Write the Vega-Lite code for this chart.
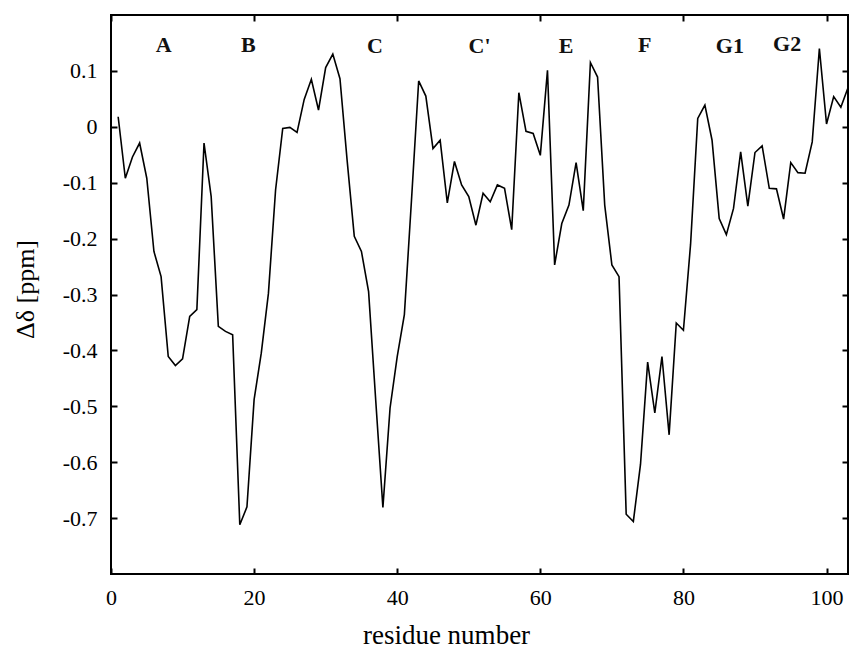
{
  "$schema": "https://vega.github.io/schema/vega-lite/v6.json",
  "width": 737,
  "height": 559,
  "autosize": {"type": "none"},
  "padding": {"left": 111, "top": 15, "right": 1, "bottom": 74},
  "background": "white",
  "config": {
    "view": {"stroke": "black", "strokeWidth": 2},
    "font": "Liberation Serif",
    "axis": {"grid": false, "domain": false, "tickColor": "black", "tickWidth": 2, "labelColor": "black", "titleColor": "black", "labelFont": "Liberation Serif", "titleFont": "Liberation Serif", "titleFontWeight": "normal"}
  },
  "datasets": {
    "shift": [
      {"residue": 1, "delta": 0.018}, {"residue": 2, "delta": -0.092}, {"residue": 3, "delta": -0.054}, {"residue": 4, "delta": -0.029},
      {"residue": 5, "delta": -0.092}, {"residue": 6, "delta": -0.223}, {"residue": 7, "delta": -0.268}, {"residue": 8, "delta": -0.411},
      {"residue": 9, "delta": -0.427}, {"residue": 10, "delta": -0.415}, {"residue": 11, "delta": -0.339}, {"residue": 12, "delta": -0.327},
      {"residue": 13, "delta": -0.029}, {"residue": 14, "delta": -0.125}, {"residue": 15, "delta": -0.357}, {"residue": 16, "delta": -0.366},
      {"residue": 17, "delta": -0.372}, {"residue": 18, "delta": -0.712}, {"residue": 19, "delta": -0.680}, {"residue": 20, "delta": -0.488},
      {"residue": 21, "delta": -0.405}, {"residue": 22, "delta": -0.298}, {"residue": 23, "delta": -0.113}, {"residue": 24, "delta": -0.003},
      {"residue": 25, "delta": -0.001}, {"residue": 26, "delta": -0.010}, {"residue": 27, "delta": 0.049}, {"residue": 28, "delta": 0.085},
      {"residue": 29, "delta": 0.030}, {"residue": 30, "delta": 0.106}, {"residue": 31, "delta": 0.130}, {"residue": 32, "delta": 0.086},
      {"residue": 33, "delta": -0.060}, {"residue": 34, "delta": -0.196}, {"residue": 35, "delta": -0.223}, {"residue": 36, "delta": -0.295},
      {"residue": 37, "delta": -0.490}, {"residue": 38, "delta": -0.681}, {"residue": 39, "delta": -0.503}, {"residue": 40, "delta": -0.411},
      {"residue": 41, "delta": -0.336}, {"residue": 42, "delta": -0.130}, {"residue": 43, "delta": 0.082}, {"residue": 44, "delta": 0.055},
      {"residue": 45, "delta": -0.039}, {"residue": 46, "delta": -0.024}, {"residue": 47, "delta": -0.136}, {"residue": 48, "delta": -0.062},
      {"residue": 49, "delta": -0.104}, {"residue": 50, "delta": -0.125}, {"residue": 51, "delta": -0.176}, {"residue": 52, "delta": -0.119},
      {"residue": 53, "delta": -0.134}, {"residue": 54, "delta": -0.104}, {"residue": 55, "delta": -0.110}, {"residue": 56, "delta": -0.184},
      {"residue": 57, "delta": 0.061}, {"residue": 58, "delta": -0.008}, {"residue": 59, "delta": -0.012}, {"residue": 60, "delta": -0.051},
      {"residue": 61, "delta": 0.101}, {"residue": 62, "delta": -0.247}, {"residue": 63, "delta": -0.173}, {"residue": 64, "delta": -0.140},
      {"residue": 65, "delta": -0.064}, {"residue": 66, "delta": -0.150}, {"residue": 67, "delta": 0.115}, {"residue": 68, "delta": 0.089},
      {"residue": 69, "delta": -0.140}, {"residue": 70, "delta": -0.247}, {"residue": 71, "delta": -0.268}, {"residue": 72, "delta": -0.693},
      {"residue": 73, "delta": -0.706}, {"residue": 74, "delta": -0.604}, {"residue": 75, "delta": -0.421}, {"residue": 76, "delta": -0.512},
      {"residue": 77, "delta": -0.411}, {"residue": 78, "delta": -0.551}, {"residue": 79, "delta": -0.351}, {"residue": 80, "delta": -0.364},
      {"residue": 81, "delta": -0.210}, {"residue": 82, "delta": 0.015}, {"residue": 83, "delta": 0.039}, {"residue": 84, "delta": -0.024},
      {"residue": 85, "delta": -0.164}, {"residue": 86, "delta": -0.193}, {"residue": 87, "delta": -0.146}, {"residue": 88, "delta": -0.045},
      {"residue": 89, "delta": -0.142}, {"residue": 90, "delta": -0.046}, {"residue": 91, "delta": -0.034}, {"residue": 92, "delta": -0.110},
      {"residue": 93, "delta": -0.111}, {"residue": 94, "delta": -0.165}, {"residue": 95, "delta": -0.064}, {"residue": 96, "delta": -0.082},
      {"residue": 97, "delta": -0.083}, {"residue": 98, "delta": -0.027}, {"residue": 99, "delta": 0.140}, {"residue": 100, "delta": 0.005},
      {"residue": 101, "delta": 0.054}, {"residue": 102, "delta": 0.035}, {"residue": 103, "delta": 0.070}
    ],
    "strands": [
      {"label": "A", "x": 7.35, "y": 0.133},
      {"label": "B", "x": 19.2, "y": 0.133},
      {"label": "C", "x": 36.9, "y": 0.132},
      {"label": "C'", "x": 51.5, "y": 0.132},
      {"label": "E", "x": 63.6, "y": 0.132},
      {"label": "F", "x": 74.6, "y": 0.133},
      {"label": "G1", "x": 86.5, "y": 0.132},
      {"label": "G2", "x": 94.5, "y": 0.135}
    ]
  },
  "resolve": {"axis": {"x": "independent", "y": "independent"}},
  "layer": [
    {
      "data": {"name": "shift"},
      "mark": {"type": "line", "color": "black", "strokeWidth": 1.6},
      "encoding": {
        "x": {"field": "residue", "type": "quantitative", "scale": {"domain": [0, 103], "nice": false, "zero": false},
          "axis": {"orient": "bottom", "title": "residue number", "values": [0, 20, 40, 60, 80, 100], "offset": -6, "tickSize": 6, "labelPadding": 30, "labelBaseline": "alphabetic", "labelFontSize": 22, "labelFlush": false, "titleFontSize": 27, "titleX": 335, "titleY": 75, "titleBaseline": "alphabetic", "titleAnchor": "middle", "titleAlign": "center"}},
        "y": {"field": "delta", "type": "quantitative", "scale": {"domain": [-0.8, 0.2], "nice": false, "zero": false},
          "axis": {"orient": "left", "title": "Δδ [ppm]", "values": [-0.7, -0.6, -0.5, -0.4, -0.3, -0.2, -0.1, 0, 0.1], "labelExpr": "datum.value === 0 ? '0' : replace(format(datum.value, '.1f'), '−', '-')", "offset": -6, "tickSize": 6, "labelPadding": 14, "labelFontSize": 22, "labelBaseline": "middle", "titleFontSize": 26, "titleX": -84, "titleY": 274, "titleAngle": -90, "titleBaseline": "alphabetic", "titleAlign": "center"}}
      }
    },
    {
      "mark": {"type": "rule", "color": "black", "strokeWidth": 1, "strokeDash": [1.5, 1.5]},
      "encoding": {"y": {"datum": 0, "type": "quantitative", "axis": null}}
    },
    {
      "data": {"name": "strands"},
      "mark": {"type": "text", "font": "Liberation Serif", "fontWeight": "bold", "fontSize": 22, "color": "#111", "align": "center", "baseline": "alphabetic"},
      "encoding": {
        "x": {"field": "x", "type": "quantitative", "axis": {"orient": "top", "title": null, "labels": false, "values": [0, 20, 40, 60, 80, 100], "offset": -6, "tickSize": 6}},
        "y": {"field": "y", "type": "quantitative", "axis": {"orient": "right", "title": null, "labels": false, "values": [-0.7, -0.6, -0.5, -0.4, -0.3, -0.2, -0.1, 0, 0.1], "offset": -6, "tickSize": 6}},
        "text": {"field": "label"}
      }
    }
  ]
}
